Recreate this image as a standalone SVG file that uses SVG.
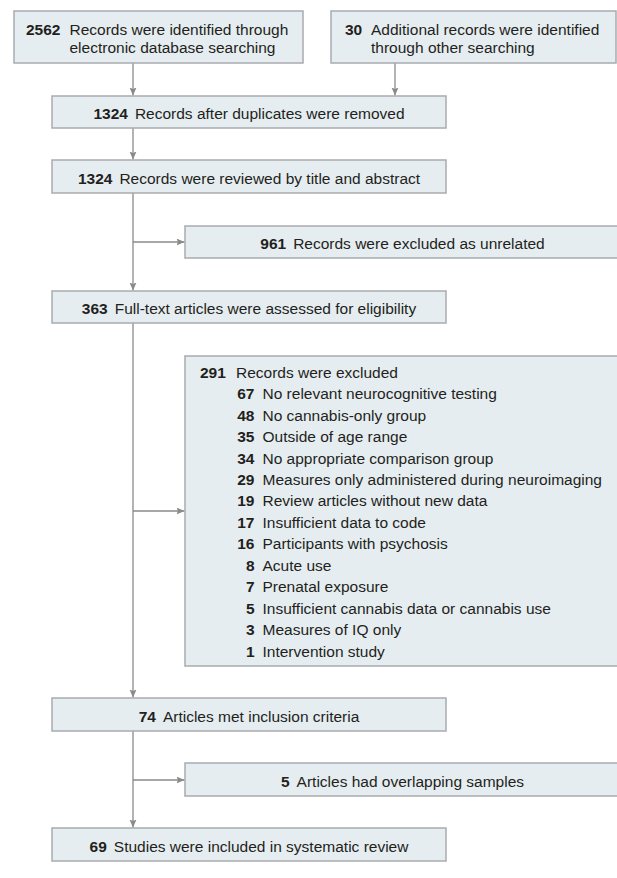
<svg xmlns="http://www.w3.org/2000/svg" width="617" height="878" viewBox="0 0 617 878">
<style>
.box{fill:#e6edf1;stroke:#a9abae;stroke-width:1.5}
.t{font-family:"Liberation Sans",Arial,sans-serif;font-size:15.5px;fill:#231f20}
.b{font-weight:bold}
.c{text-anchor:middle}
.e{text-anchor:end}
.ln{fill:none;stroke:#8a8a8a;stroke-width:1.3}
</style>
<defs>
<marker id="ah" markerUnits="userSpaceOnUse" markerWidth="9" markerHeight="8" refX="8" refY="3.5" orient="auto">
<path d="M0,0 L8,3.5 L0,7 L1.5,3.5 z" fill="#8a8a8a"/>
</marker>
</defs>
<rect width="617" height="878" fill="#ffffff"/>
<g id="connectors">
<line class="ln" x1="133" y1="63" x2="133" y2="95.5" marker-end="url(#ah)"/>
<line class="ln" x1="395" y1="63" x2="395" y2="95.5" marker-end="url(#ah)"/>
<line class="ln" x1="133" y1="128" x2="133" y2="159.5" marker-end="url(#ah)"/>
<line class="ln" x1="133" y1="193" x2="133" y2="290.5" marker-end="url(#ah)"/>
<line class="ln" x1="133" y1="242" x2="184.5" y2="242" marker-end="url(#ah)"/>
<line class="ln" x1="133" y1="323" x2="133" y2="697.5" marker-end="url(#ah)"/>
<line class="ln" x1="133" y1="511" x2="184.5" y2="511" marker-end="url(#ah)"/>
<line class="ln" x1="133" y1="731" x2="133" y2="827.5" marker-end="url(#ah)"/>
<line class="ln" x1="133" y1="780" x2="184.5" y2="780" marker-end="url(#ah)"/>
</g>
<g id="n2562">
<rect class="box" x="14" y="11" width="289" height="52"/>
<text class="t b" x="26" y="35">2562</text>
<text class="t" x="69.5" y="35">Records were identified through</text>
<text class="t" x="69.5" y="53">electronic database searching</text>
</g>
<g id="n30">
<rect class="box" x="331" y="11" width="285" height="52"/>
<text class="t b" x="345" y="34.5">30</text>
<text class="t" x="371" y="34.5">Additional records were identified</text>
<text class="t" x="371" y="52.5">through other searching</text>
</g>
<g id="n1324a">
<rect class="box" x="52" y="96" width="394" height="32"/>
<text class="t c" x="249" y="119"><tspan class="b">1324</tspan><tspan dx="7">Records after duplicates were removed</tspan></text>
</g>
<g id="n1324b">
<rect class="box" x="52" y="160" width="394" height="33"/>
<text class="t c" x="249" y="183.5"><tspan class="b">1324</tspan><tspan dx="7">Records were reviewed by title and abstract</tspan></text>
</g>
<g id="n961">
<rect class="box" x="185" y="226" width="435" height="32"/>
<text class="t c" x="402.5" y="248.5"><tspan class="b">961</tspan><tspan dx="7">Records were excluded as unrelated</tspan></text>
</g>
<g id="n363">
<rect class="box" x="52" y="291" width="394" height="32"/>
<text class="t c" x="249" y="313.5"><tspan class="b">363</tspan><tspan dx="7">Full-text articles were assessed for eligibility</tspan></text>
</g>
<g id="n291">
<rect class="box" x="185" y="356" width="435" height="310"/>
<text class="t b" x="200" y="377.7">291</text>
<text class="t" x="236" y="377.7">Records were excluded</text>
<g class="t b e">
<text x="254.5" y="399.1">67</text>
<text x="254.5" y="420.6">48</text>
<text x="254.5" y="442">35</text>
<text x="254.5" y="463.5">34</text>
<text x="254.5" y="485">29</text>
<text x="254.5" y="506.4">19</text>
<text x="254.5" y="527.9">17</text>
<text x="254.5" y="549.3">16</text>
<text x="254.5" y="570.8">8</text>
<text x="254.5" y="592.2">7</text>
<text x="254.5" y="613.7">5</text>
<text x="254.5" y="635.1">3</text>
<text x="254.5" y="656.6">1</text>
</g>
<g class="t">
<text x="262.5" y="399.1">No relevant neurocognitive testing</text>
<text x="262.5" y="420.6">No cannabis-only group</text>
<text x="262.5" y="442">Outside of age range</text>
<text x="262.5" y="463.5">No appropriate comparison group</text>
<text x="262.5" y="485">Measures only administered during neuroimaging</text>
<text x="262.5" y="506.4">Review articles without new data</text>
<text x="262.5" y="527.9">Insufficient data to code</text>
<text x="262.5" y="549.3">Participants with psychosis</text>
<text x="262.5" y="570.8">Acute use</text>
<text x="262.5" y="592.2">Prenatal exposure</text>
<text x="262.5" y="613.7">Insufficient cannabis data or cannabis use</text>
<text x="262.5" y="635.1">Measures of IQ only</text>
<text x="262.5" y="656.6">Intervention study</text>
</g>
</g>
<g id="n74">
<rect class="box" x="52" y="698" width="394" height="33"/>
<text class="t c" x="249" y="721.5"><tspan class="b">74</tspan><tspan dx="7">Articles met inclusion criteria</tspan></text>
</g>
<g id="n5">
<rect class="box" x="185" y="763" width="435" height="33"/>
<text class="t c" x="402.5" y="786.5"><tspan class="b">5</tspan><tspan dx="7">Articles had overlapping samples</tspan></text>
</g>
<g id="n69">
<rect class="box" x="52" y="828" width="394" height="33"/>
<text class="t c" x="249" y="851.5"><tspan class="b">69</tspan><tspan dx="7">Studies were included in systematic review</tspan></text>
</g>
</svg>
